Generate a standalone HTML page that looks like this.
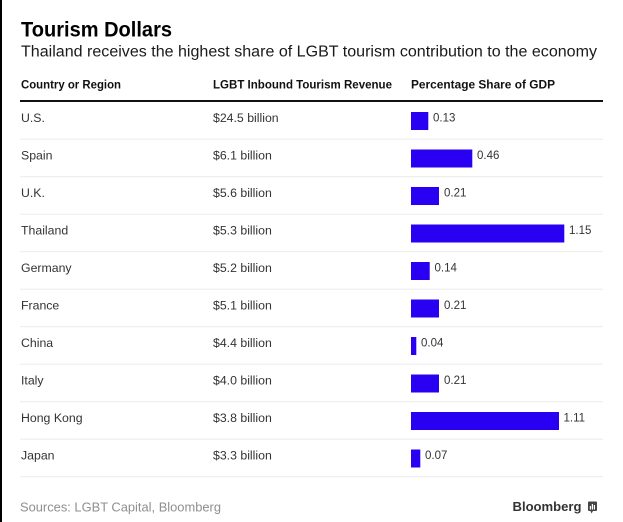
<!DOCTYPE html>
<html>
<head>
<meta charset="utf-8">
<style>
  html, body { margin:0; padding:0; background:#fff; }
  body { width:623px; height:522px; overflow:hidden; position:relative; }
  svg { position:absolute; left:0; top:0; }
  text { font-family: "Liberation Sans", Arial, sans-serif; }
</style>
</head>
<body>
<svg width="623" height="522" viewBox="0 0 623 522" xmlns="http://www.w3.org/2000/svg">
  <rect x="0" y="0" width="623" height="522" fill="#ffffff"/>
  <rect x="0" y="0" width="2" height="522" fill="#000"/>

  <!-- Title -->
  <text x="21" y="36.5" font-size="21" font-weight="bold" fill="#000" textLength="151" lengthAdjust="spacingAndGlyphs">Tourism Dollars</text>
  <text x="21" y="56.5" font-size="15.5" fill="#1a1a1a" textLength="576" lengthAdjust="spacingAndGlyphs">Thailand receives the highest share of LGBT tourism contribution to the economy</text>

  <!-- Headers -->
  <text x="21" y="88.5" font-size="12" font-weight="bold" fill="#111" textLength="100" lengthAdjust="spacingAndGlyphs">Country or Region</text>
  <text x="213" y="88.5" font-size="12" font-weight="bold" fill="#111" textLength="179" lengthAdjust="spacingAndGlyphs">LGBT Inbound Tourism Revenue</text>
  <text x="411" y="88.5" font-size="12" font-weight="bold" fill="#111" textLength="144" lengthAdjust="spacingAndGlyphs">Percentage Share of GDP</text>
  <rect x="20" y="100" width="583" height="2" fill="#111"/>

  <!-- separators -->
  <g fill="#ebebeb">
    <rect x="20" y="138.7" width="583" height="1"/>
    <rect x="20" y="176.2" width="583" height="1"/>
    <rect x="20" y="213.7" width="583" height="1"/>
    <rect x="20" y="251.2" width="583" height="1"/>
    <rect x="20" y="288.7" width="583" height="1"/>
    <rect x="20" y="326.2" width="583" height="1"/>
    <rect x="20" y="363.7" width="583" height="1"/>
    <rect x="20" y="401.2" width="583" height="1"/>
    <rect x="20" y="438.7" width="583" height="1"/>
    <rect x="20" y="476.2" width="583" height="1"/>
  </g>

  <!-- rows -->
  <g font-size="12.3" fill="#333">
    <text x="21" y="122">U.S.</text>
    <text x="213" y="122">$24.5 billion</text>
    <text x="21" y="159.5">Spain</text>
    <text x="213" y="159.5">$6.1 billion</text>
    <text x="21" y="197">U.K.</text>
    <text x="213" y="197">$5.6 billion</text>
    <text x="21" y="234.5">Thailand</text>
    <text x="213" y="234.5">$5.3 billion</text>
    <text x="21" y="272">Germany</text>
    <text x="213" y="272">$5.2 billion</text>
    <text x="21" y="309.5">France</text>
    <text x="213" y="309.5">$5.1 billion</text>
    <text x="21" y="347">China</text>
    <text x="213" y="347">$4.4 billion</text>
    <text x="21" y="384.5">Italy</text>
    <text x="213" y="384.5">$4.0 billion</text>
    <text x="21" y="422">Hong Kong</text>
    <text x="213" y="422">$3.8 billion</text>
    <text x="21" y="459.5">Japan</text>
    <text x="213" y="459.5">$3.3 billion</text>
  </g>

  <!-- bars -->
  <g fill="#2a00f2">
    <rect x="411" y="112" width="17.3" height="18"/>
    <rect x="411" y="149.5" width="61.3" height="18"/>
    <rect x="411" y="187" width="28" height="18"/>
    <rect x="411" y="224.5" width="153.3" height="18"/>
    <rect x="411" y="262" width="18.7" height="18"/>
    <rect x="411" y="299.5" width="28" height="18"/>
    <rect x="411" y="337" width="5.3" height="18"/>
    <rect x="411" y="374.5" width="28" height="18"/>
    <rect x="411" y="412" width="148" height="18"/>
    <rect x="411" y="449.5" width="9.3" height="18"/>
  </g>

  <!-- values -->
  <g font-size="11.5" fill="#333">
    <text x="433" y="121.5">0.13</text>
    <text x="477" y="159">0.46</text>
    <text x="444" y="196.5">0.21</text>
    <text x="569" y="234">1.15</text>
    <text x="434.5" y="271.5">0.14</text>
    <text x="444" y="309">0.21</text>
    <text x="421" y="346.5">0.04</text>
    <text x="444" y="384">0.21</text>
    <text x="563.5" y="421.5">1.11</text>
    <text x="425" y="459">0.07</text>
  </g>

  <!-- footer -->
  <text x="20" y="511.5" font-size="13.3" fill="#8f8f8f" textLength="201" lengthAdjust="spacingAndGlyphs">Sources: LGBT Capital, Bloomberg</text>
  <text x="512.5" y="511" font-size="12.8" font-weight="bold" fill="#333" textLength="69" lengthAdjust="spacingAndGlyphs">Bloomberg</text>
  <g>
    <rect x="588" y="501.5" width="9" height="9.5" rx="1" fill="#444"/>
    <polygon points="590.5,511 593,511 591.5,513.5" fill="#444"/>
    <rect x="589.8" y="506" width="1.2" height="3.5" fill="#fff"/>
    <rect x="591.8" y="504" width="1.2" height="5.5" fill="#fff"/>
    <rect x="593.8" y="505" width="1.2" height="4.5" fill="#fff"/>
  </g>
</svg>
</body>
</html>
